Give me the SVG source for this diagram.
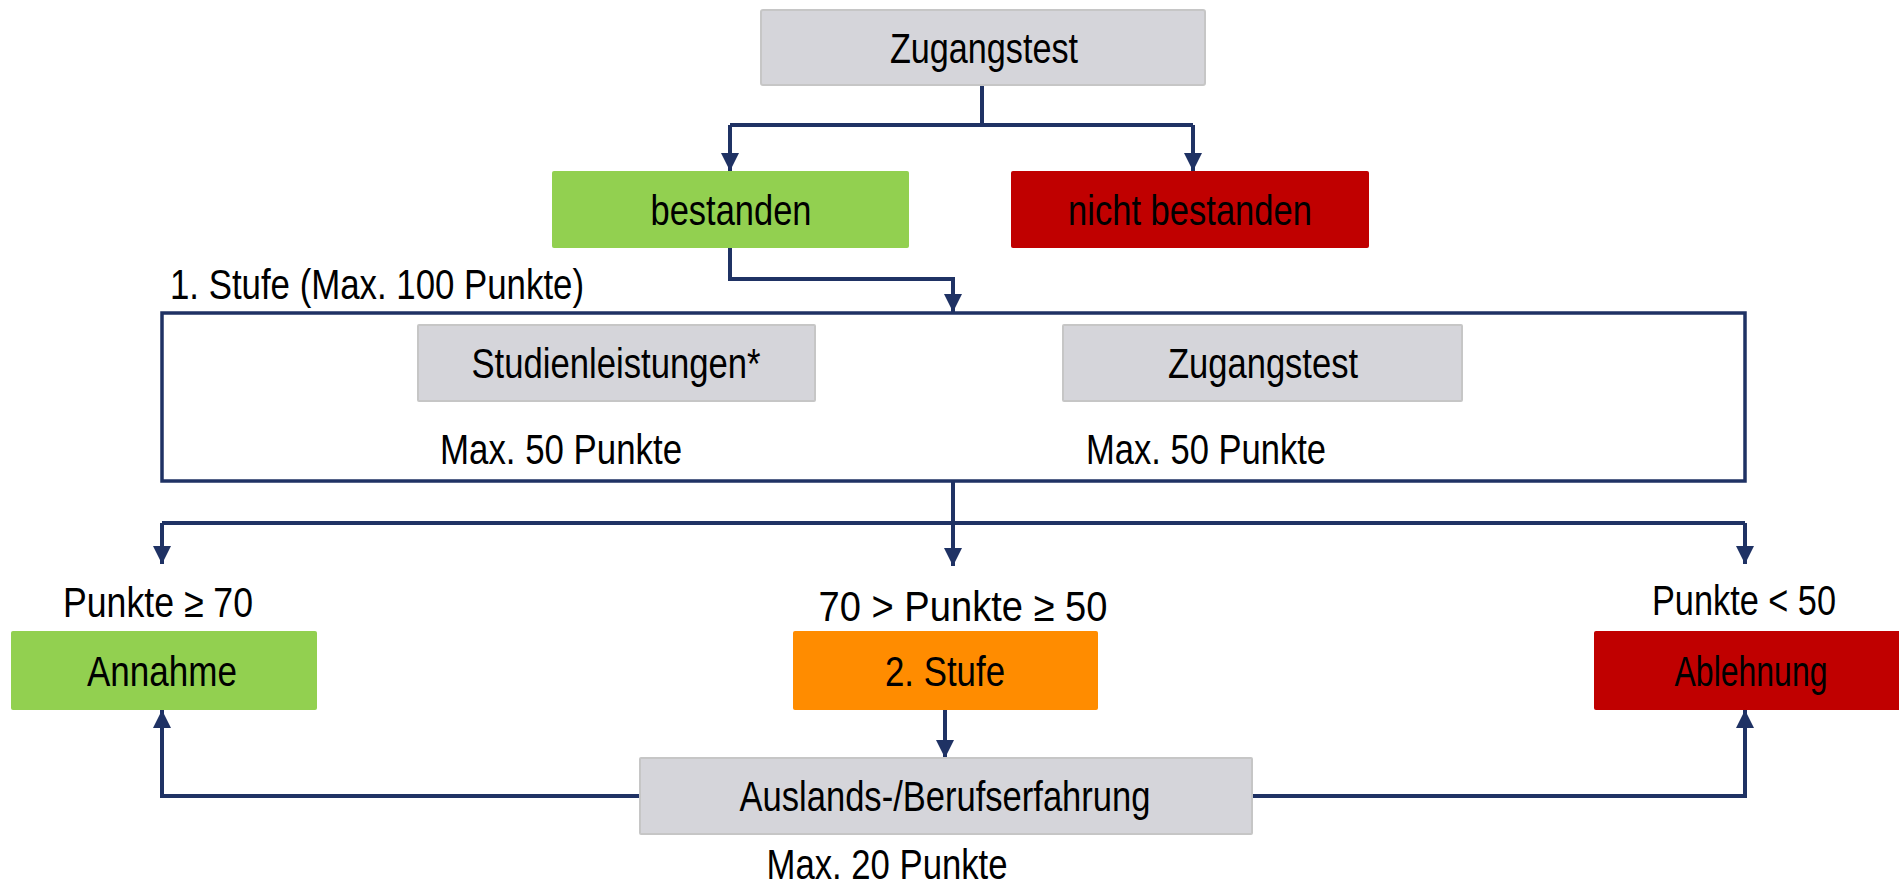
<svg xmlns="http://www.w3.org/2000/svg" width="1899" height="889" viewBox="0 0 1899 889">
<defs>
<style>
text{font-family:"Liberation Sans Narrow","Liberation Sans",Arial,sans-serif;font-size:42px;fill:#000;text-anchor:middle}
.grey{fill:#D5D5DA;stroke:#C6C6C6;stroke-width:2}
.green{fill:#92D050}
.red{fill:#C00000}
.orange{fill:#FF8C00}
.conn{fill:none;stroke:#1F3264;stroke-width:4}
.frame{fill:none;stroke:#1F3264;stroke-width:3.5}
</style>
<marker id="arr" markerUnits="userSpaceOnUse" markerWidth="18" markerHeight="18" viewBox="0 0 18 18" refX="18" refY="9" orient="auto">
<path d="M0,0 L18,9 L0,18 Z" fill="#1F3264"/>
</marker>
</defs>
<rect width="1899" height="889" fill="#fff"/>
<g id="connectors">
<path class="conn" d="M982,85 V125"/>
<path class="conn" d="M730,125 H1193"/>
<path class="conn" d="M730,125 V171" marker-end="url(#arr)"/>
<path class="conn" d="M1193,125 V171" marker-end="url(#arr)"/>
<path class="conn" d="M730,248 V279 H953 V312" marker-end="url(#arr)"/>
<path class="conn" d="M953,481 V566" marker-end="url(#arr)"/>
<path class="conn" d="M162,523 H1745"/>
<path class="conn" d="M162,523 V564" marker-end="url(#arr)"/>
<path class="conn" d="M1745,523 V564" marker-end="url(#arr)"/>
<path class="conn" d="M945,710 V758" marker-end="url(#arr)"/>
<path class="conn" d="M639,796 H162 V710" marker-end="url(#arr)"/>
<path class="conn" d="M1252,796 H1745 V710" marker-end="url(#arr)"/>
</g>
<g id="zugangstest-top">
<rect class="grey" x="761" y="10" width="444" height="75" rx="2"/>
<text x="984" y="63" textLength="188" lengthAdjust="spacingAndGlyphs">Zugangstest</text>
</g>
<g id="bestanden">
<rect class="green" x="552" y="171" width="357" height="77" rx="2"/>
<text x="731" y="225" textLength="161" lengthAdjust="spacingAndGlyphs">bestanden</text>
</g>
<g id="nicht-bestanden">
<rect class="red" x="1011" y="171" width="358" height="77" rx="2"/>
<text x="1190" y="225" textLength="244" lengthAdjust="spacingAndGlyphs">nicht bestanden</text>
</g>
<g id="stufe1">
<text x="377" y="299" textLength="414" lengthAdjust="spacingAndGlyphs">1. Stufe (Max. 100 Punkte)</text>
<rect class="frame" x="162" y="313" width="1583" height="168"/>
</g>
<g id="studienleistungen">
<rect class="grey" x="418" y="325" width="397" height="76" rx="1"/>
<text x="616" y="378" textLength="289" lengthAdjust="spacingAndGlyphs">Studienleistungen*</text>
<text x="561" y="464" textLength="242" lengthAdjust="spacingAndGlyphs">Max. 50 Punkte</text>
</g>
<g id="zugangstest-inner">
<rect class="grey" x="1063" y="325" width="399" height="76" rx="1"/>
<text x="1263" y="378" textLength="190" lengthAdjust="spacingAndGlyphs">Zugangstest</text>
<text x="1206" y="464" textLength="240" lengthAdjust="spacingAndGlyphs">Max. 50 Punkte</text>
</g>
<g id="annahme">
<text x="158" y="617" textLength="190" lengthAdjust="spacingAndGlyphs">Punkte ≥ 70</text>
<rect class="green" x="11" y="631" width="306" height="79" rx="2"/>
<text x="162" y="686" textLength="150" lengthAdjust="spacingAndGlyphs">Annahme</text>
</g>
<g id="stufe2">
<text x="963" y="621" textLength="289" lengthAdjust="spacingAndGlyphs">70 &gt; Punkte ≥ 50</text>
<rect class="orange" x="793" y="631" width="305" height="79" rx="2"/>
<text x="945" y="686" textLength="120" lengthAdjust="spacingAndGlyphs">2. Stufe</text>
</g>
<g id="ablehnung">
<text x="1744" y="615" textLength="184" lengthAdjust="spacingAndGlyphs">Punkte &lt; 50</text>
<rect class="red" x="1594" y="631" width="310" height="79" rx="2"/>
<text x="1751" y="686" textLength="153" lengthAdjust="spacingAndGlyphs">Ablehnung</text>
</g>
<g id="auslands">
<rect class="grey" x="640" y="758" width="612" height="76" rx="1"/>
<text x="945" y="811" textLength="411" lengthAdjust="spacingAndGlyphs">Auslands-/Berufserfahrung</text>
<text x="887" y="879" textLength="241" lengthAdjust="spacingAndGlyphs">Max. 20 Punkte</text>
</g>
</svg>
